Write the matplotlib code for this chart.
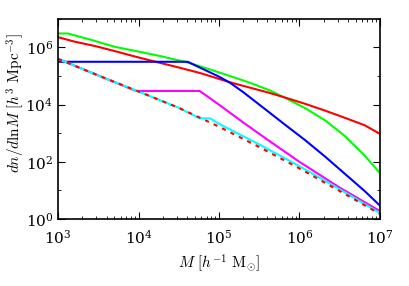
import numpy as np
import matplotlib
matplotlib.use("Agg")
import matplotlib.pyplot as plt
from matplotlib.ticker import FixedLocator, NullFormatter, LogFormatterMathtext

plt.rcParams['mathtext.fontset'] = 'cm'
plt.rcParams['font.family'] = 'serif'
plt.rcParams['font.serif'] = ['DejaVu Serif']

# values, as log10(M) and log10(dn/dlnM)
logM_green = [3.0, 3.12, 3.37, 3.71, 3.96, 4.27, 4.62, 4.9, 5.14, 5.4, 5.63, 5.82, 6.07, 6.32, 6.565, 6.81, 7.0]
logn_green = [6.49, 6.49, 6.30, 6.02, 5.88, 5.70, 5.47, 5.22, 5.00, 4.75, 4.50, 4.24, 3.88, 3.45, 2.90, 2.22, 1.61]

logM_red = [3.0, 3.21, 3.46, 3.71, 3.96, 4.27, 4.5, 4.76, 5.14, 5.63, 5.82, 6.07, 6.32, 6.565, 6.81, 7.0]
logn_red = [6.36, 6.20, 6.05, 5.87, 5.68, 5.46, 5.30, 5.11, 4.78, 4.41, 4.25, 4.03, 3.79, 3.54, 3.28, 2.98]

logM_blue = [3.0, 4.61, 4.76, 5.0, 5.14, 5.3, 5.57, 5.82, 6.07, 6.32, 6.565, 6.81, 7.0]
logn_blue = [5.50, 5.50, 5.30, 4.98, 4.76, 4.44, 3.85, 3.30, 2.76, 2.18, 1.58, 0.98, 0.47]

logM_magenta = [3.0, 3.5, 3.97, 4.76, 5.0, 5.3, 5.6, 6.0, 6.5, 7.0]
logn_magenta = [5.60, 5.02, 4.48, 4.48, 4.00, 3.38, 2.78, 2.00, 1.10, 0.28]

logM_cyan = [3.0, 3.5, 4.0, 4.5, 4.76, 4.89, 5.0, 5.5, 6.0, 6.5, 7.0]
logn_cyan = [5.60, 5.02, 4.46, 3.89, 3.52, 3.52, 3.33, 2.61, 1.85, 1.04, 0.21]

logM_base = [3.0, 3.5, 4.0, 4.5, 5.0, 5.5, 6.0, 6.5, 7.0]
logn_base = [5.60, 5.02, 4.46, 3.89, 3.23, 2.52, 1.77, 0.98, 0.18]

series = [
    (logM_green, logn_green, '#00ff00'),
    (logM_red, logn_red, '#ff0000'),
    (logM_blue, logn_blue, '#0000ff'),
    (logM_magenta, logn_magenta, '#ff00ff'),
    (logM_cyan, logn_cyan, '#00ffff'),
]

fig = plt.figure(figsize=(4.09, 2.86), dpi=100)
ax = fig.add_axes([0.142, 0.234, 0.787, 0.70])

for lm, ln, c in series:
    ax.plot(10**np.array(lm), 10**np.array(ln), color=c, lw=1.5)
# reference power law, dashed on top
ax.plot(10**np.array(logM_base), 10**np.array(logn_base), color='#ff0000', lw=1.5,
        dashes=(2, 2.5))

ax.set_xscale('log')
ax.set_yscale('log')
ax.set_xlim(1e3, 1e7)
ax.set_ylim(1e0, 1e7)

ax.yaxis.set_major_locator(FixedLocator([1e0, 1e2, 1e4, 1e6]))
ax.yaxis.set_minor_locator(FixedLocator([1e1, 1e3, 1e5, 1e7]))
ax.yaxis.set_major_formatter(LogFormatterMathtext())
ax.yaxis.set_minor_formatter(NullFormatter())

ax.tick_params(which='both', direction='in', top=True, right=True, labelsize=11)
ax.tick_params(which='major', length=5, width=0.8)
ax.tick_params(which='minor', length=2.5, width=0.6)
ax.tick_params(axis='x', pad=7)
for s in ax.spines.values():
    s.set_linewidth(1.2)

ax.set_xlabel(r'$M\ [h^{-1}\ \mathrm{M}_{\odot}]$', fontsize=11)
ax.set_ylabel(r'$dn/d\mathrm{ln}M\ [h^{3}\ \mathrm{Mpc}^{-3}]$', fontsize=11)
ax.yaxis.set_label_coords(-0.095, 0.58)

fig.savefig('out.png', dpi=100)
